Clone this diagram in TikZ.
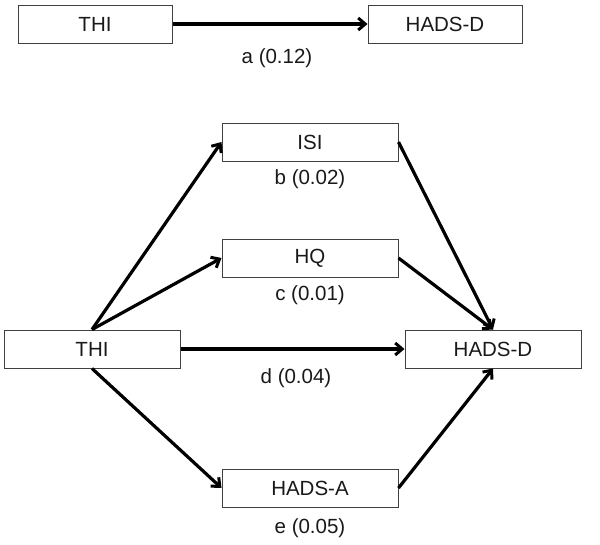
\documentclass[tikz,border=0pt]{standalone}
\usepackage{fontspec}
\setmainfont{Liberation Sans}
\usetikzlibrary{arrows.meta}
\begin{document}
\begin{tikzpicture}[x=1pt,y=-1pt,
  varbox/.style={draw=black!75, line width=1pt, minimum height=38pt, inner sep=0pt,
    font=\fontsize{20.5}{22}\selectfont, text=black!90},
  narrowbox/.style={varbox, minimum width=154pt},
  widebox/.style={varbox, minimum width=176pt},
  path/.style={line width=3.2pt, -{Straight Barb[length=7pt,width=12pt,line width=3pt]}},
  coef/.style={font=\fontsize{20.5}{22}\selectfont, text=black!90}]
  \useasboundingbox (0,0) rectangle (600,544);

  % total effect
  \node[narrowbox] (thiT) at (95,24) {THI};
  \node[narrowbox] (hadsdT) at (445,24) {HADS-D};
  \draw[path] (thiT) -- (hadsdT);
  \node[coef] (a) at (277,58) {a (0.12)};

  % mediation model
  \node[widebox] (isi) at (310,142) {ISI};
  \node[widebox] (hq) at (310,258) {HQ};
  \node[widebox] (thi) at (92,349) {THI};
  \node[widebox] (hadsd) at (493,349) {HADS-D};
  \node[widebox] (hadsa) at (310,488) {HADS-A};

  \draw[path] (thi.north) -- (isi.west);
  \draw[path] (thi.north) -- (hq.west);
  \draw[path] (thi) -- (hadsd);
  \draw[path] (thi.south) -- (hadsa.west);
  \draw[path] (isi.east) -- (hadsd.north);
  \draw[path] (hq.east) -- (hadsd.north);
  \draw[path] (hadsa.east) -- (hadsd.south);

  \node[coef] (b) at (310,179) {b (0.02)};
  \node[coef] (c) at (310,295) {c (0.01)};
  \node[coef] (d) at (296,378) {d (0.04)};
  \node[coef] (e) at (310,528) {e (0.05)};
\end{tikzpicture}
\end{document}
